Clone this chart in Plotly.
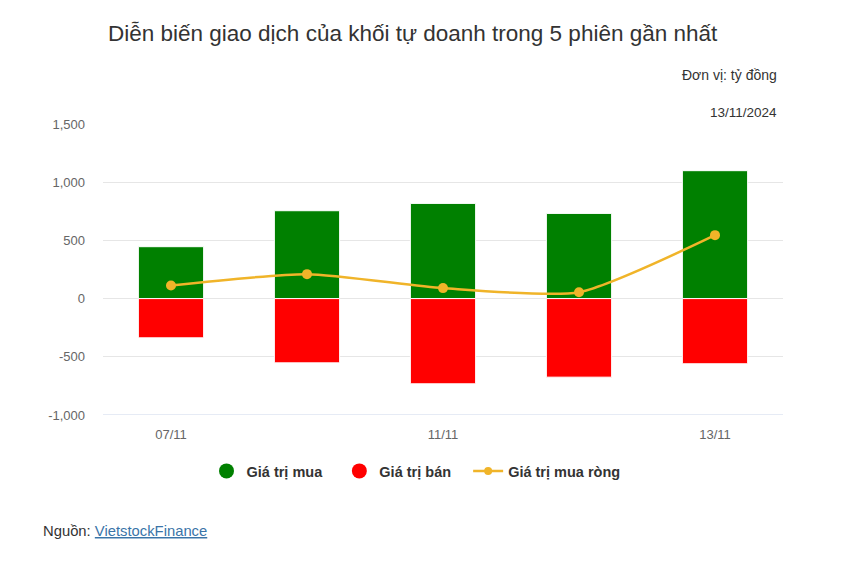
import plotly.graph_objects as go

dates = ["07/11", "08/11", "11/11", "12/11", "13/11"]
shown_ticks = ["07/11", "11/11", "13/11"]
buy_values = [446, 755, 818, 732, 1099]
sell_values = [-337, -552, -732, -675, -560]
net_values = [112, 210, 90, 55, 545]
y_ticks = [-1000, -500, 0, 500, 1000, 1500]
y_tick_text = ["-1,000", "-500", "0", "500", "1,000", "1,500"]

GREEN = "#008000"
RED = "#ff0000"
GOLD = "#f0b429"
FONT = "Liberation Sans, Arial, sans-serif"
NB = "\u00a0"

fig = go.Figure()
fig.add_trace(go.Bar(x=dates, y=buy_values, marker=dict(color=GREEN, line=dict(color="white", width=1)),
                     width=0.48, showlegend=False, name="Giá trị mua"))
fig.add_trace(go.Bar(x=dates, y=sell_values, marker=dict(color=RED, line=dict(color="white", width=1)),
                     width=0.48, showlegend=False, name="Giá trị bán"))
fig.add_trace(go.Scatter(x=dates, y=net_values, mode="lines+markers",
                         line=dict(color=GOLD, width=2.5, shape="spline", smoothing=0.6),
                         marker=dict(size=10, color=GOLD), showlegend=False, name="Giá trị mua ròng"))
# legend entries
fig.add_trace(go.Scatter(x=[None], y=[None], mode="markers", marker=dict(size=15, color=GREEN),
                         name="Giá trị mua" + NB * 3))
fig.add_trace(go.Scatter(x=[None], y=[None], mode="markers", marker=dict(size=15, color=RED),
                         name="Giá trị bán" + NB * 3))
fig.add_trace(go.Scatter(x=[None], y=[None], mode="lines+markers", line=dict(color=GOLD, width=2.5),
                         marker=dict(size=8, color=GOLD), name="Giá trị mua ròng"))

L, R, T, B = 103, 74, 124, 147
W, H = 857, 562
pw, ph = W - L - R, H - T - B

def px(x):
    return (x - L) / pw

def py(y):
    return (H - B - y) / ph

fig.update_layout(
    width=W, height=H,
    margin=dict(l=L, r=R, t=T, b=B, pad=0),
    paper_bgcolor="white", plot_bgcolor="white",
    barmode="relative",
    font=dict(family=FONT, color="#666666", size=13),
    title=dict(text="Diễn biến giao dịch của khối tự doanh trong 5 phiên gần nhất",
               x=108 / W, y=1 - 33 / H, xref="container", yref="container",
               xanchor="left", yanchor="middle",
               font=dict(family=FONT, size=22.5, color="#333333")),
    xaxis=dict(type="category", categoryarray=dates, tickmode="array", tickvals=shown_ticks,
               ticktext=shown_ticks, showgrid=False, showline=False, ticks="",
               ticklabelstandoff=10,
               tickfont=dict(size=13, color="#666666"), range=[-0.5, 4.5]),
    yaxis=dict(range=[-1000, 1500], tickmode="array", tickvals=y_ticks, ticktext=y_tick_text,
               showgrid=True, gridcolor="#e6e6e6", gridwidth=1,
               zeroline=True, zerolinecolor="#e6e6e6", zerolinewidth=1,
               showline=False, ticks="", ticklabelstandoff=17,
               tickfont=dict(size=13, color="#666666")),
    legend=dict(orientation="h", x=px(416), xanchor="center", y=py(471), yanchor="middle",
                font=dict(family=FONT, size=14.5, color="#333333", weight="bold"),
                itemsizing="trace", bgcolor="rgba(0,0,0,0)"),
    annotations=[
        dict(text="Đơn vị: tỷ đồng", xref="paper", yref="paper", x=px(779), y=py(75),
             xanchor="right", yanchor="middle", showarrow=False,
             font=dict(family=FONT, size=14, color="#333333")),
        dict(text="13/11/2024", xref="paper", yref="paper", x=px(779), y=py(113),
             xanchor="right", yanchor="middle", showarrow=False,
             font=dict(family=FONT, size=13.5, color="#333333")),
        dict(text="Nguồn: <span style='color:#3a74a8;text-decoration:underline'>VietstockFinance</span>",
             xref="paper", yref="paper", x=px(41), y=py(531),
             xanchor="left", yanchor="middle", showarrow=False,
             font=dict(family=FONT, size=14.8, color="#333333")),
    ],
    shapes=[
        dict(type="line", xref="paper", yref="y", x0=0, x1=1, y0=-1000, y1=-1000,
             line=dict(color="#ccd6eb", width=1)),
    ],
)

fig.write_html("out.html")
